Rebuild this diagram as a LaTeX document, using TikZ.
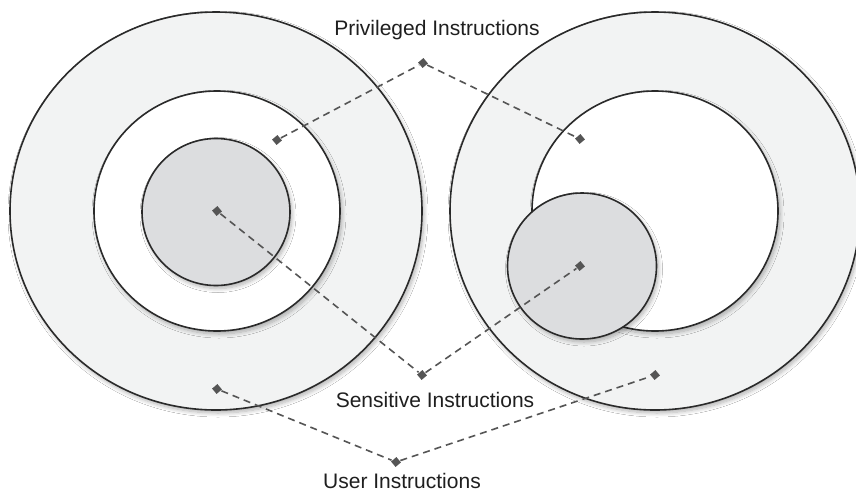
\documentclass[tikz,border=0pt]{standalone}
\usepackage{fontspec}
\setmainfont{Liberation Sans}
\usetikzlibrary{shapes.geometric, shadows.blur}
\definecolor{ringgray}{HTML}{F2F3F3}
\definecolor{coregray}{HTML}{DCDDDF}
\definecolor{edgegray}{HTML}{2A2A2A}
\definecolor{dashgray}{HTML}{555555}

\begin{document}
\begin{tikzpicture}[x=1pt, y=-1pt, line width=1.6pt,
    disc/.style 2 args={ellipse, draw=edgegray, inner sep=0pt,
        minimum width=#1, minimum height=#2,
        blur shadow={shadow xshift=2pt, shadow yshift=-3pt,
            shadow blur radius=4pt, shadow blur steps=8, shadow opacity=30}},
    ringdisc/.style 2 args={disc={#1}{#2}, fill=ringgray},
    whitedisc/.style 2 args={disc={#1}{#2}, fill=white},
    coredisc/.style 2 args={disc={#1}{#2}, fill=coregray},
    mark dot/.style={rectangle, fill=dashgray, inner sep=0pt, minimum size=7pt, rotate=40},
    link/.style={draw=dashgray, dash pattern=on 7pt off 5pt, line width=1.6pt},
    caption/.style={anchor=base, text=black!88, font=\fontsize{21}{25}\selectfont}]
            \path[use as bounding box, fill=white] (0,0) rectangle (856,491);

            % Kreise links.
            \node[ringdisc={412pt}{398pt}] (userL) at (216,211) {};
            \node[whitedisc={246pt}{240pt}] (privL) at (217,211) {};
            \node[coredisc={148pt}{147pt}] (sensL) at (216,212) {};

            % Kreise rechts.
            \node[ringdisc={410pt}{398pt}] (userR) at (655,211) {};
            \node[whitedisc={246pt}{240pt}] (privR) at (655,211) {};
            \node[coredisc={149pt}{146pt}] (sensR) at (582,266) {};

            % Punkte.
            \node[mark dot] (privHub) at (423,63) {};
            \node[mark dot] (privA) at (277,140) {};
            \node[mark dot] (privB) at (580,139) {};
            \node[mark dot] (sensHub) at (422,375) {};
            \node[mark dot] (sensA) at (217,211) {};
            \node[mark dot] (sensB) at (580,266) {};
            \node[mark dot] (userHub) at (396,462) {};
            \node[mark dot] (userA) at (217,389) {};
            \node[mark dot] (userB) at (655,375) {};

            % Linien.
            \draw[link] (privA) -- (privHub) -- (privB);
            \draw[link] (sensA) -- (sensHub) -- (sensB);
            \draw[link] (userA) -- (userHub) -- (userB);

            % Beschriftung.
            \node[caption] (privText) at (437,35) {Privileged Instructions};
            \node[caption] (sensText) at (435,407) {Sensitive Instructions};
            \node[caption] (userText) at (402,488) {User Instructions};
        \end{tikzpicture}
\end{document}
